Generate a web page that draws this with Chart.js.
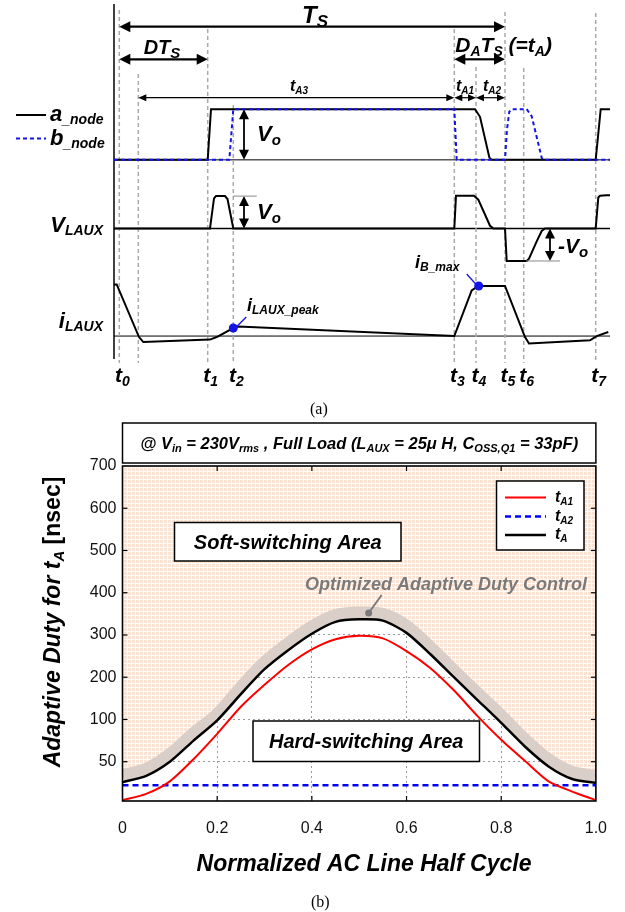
<!DOCTYPE html>
<html>
<head>
<meta charset="utf-8">
<script src="https://cdn.jsdelivr.net/npm/chart.js@4.4.0/dist/chart.umd.min.js"></script>
<style>
  body { margin: 0; background: #fff; width: 625px; height: 912px; position: relative; overflow: hidden; }
  canvas { position: absolute; left: 0; }
  #diagram { top: 0; }
  #duty { top: 400px; }
  .cap { position: absolute; font-family: "Liberation Serif", "Times New Roman", serif; font-size: 16px; color: #000; }
</style>
</head>
<body>
<canvas id="diagram" width="625" height="400"></canvas>
<canvas id="duty" width="625" height="512"></canvas>
<div class="cap" style="left:310px;top:400px">(a)</div>
<div class="cap" style="left:311px;top:893px">(b)</div>
<script>
// ---- (a) switching waveforms, time in diagram units ----
const eventNames = ['0', '1', '2', '3', '4', '5', '6', '7'];
const eventTimes = [5.3, 93.7, 119.3, 340.3, 362, 391, 409.7, 481.7];
const tA3Start = 24.3;

const aNodeT = [0, 93.7, 97, 361, 366, 375.3, 377.7, 481.7, 486.7, 496];
const aNodeV = [0, 0, 1, 1, 0.85, 0.05, 0, 0, 1, 1];
const bNodeT = [0, 115.3, 119.3, 340.3, 342.7, 391, 393, 395.3, 397.7, 412.7, 417.7, 427.7, 429.3, 496];
const bNodeV = [0, 0, 1, 1, 0, 0, 0.6, 0.95, 1, 1, 0.86, 0.04, 0, 0];
const vLauxT = [0, 96, 100, 102, 111, 113.5, 119.3, 340.3, 342, 360, 364.3, 376, 379.3, 391, 392.7, 412.7, 415, 422.7, 427.7, 431, 481.7, 484.3, 486, 492.7, 496];
const vLauxV = [0, 0, 0.92, 0.99, 0.99, 0.9, 0, 0, 1, 1, 0.88, 0.08, 0, 0, -1, -1, -0.93, -0.4, -0.08, 0, 0, 0.95, 1, 1.02, 1.02];
const iLauxT = [0, 2.7, 25, 29.3, 96, 102.7, 119.3, 124.3, 340.3, 357.7, 364.3, 391, 411, 415, 476, 482.7, 494.3];
const iLauxV = [1.03, 1.03, -0.02, -0.12, -0.07, -0.02, 0.16, 0.19, 0, 0.91, 1, 1, -0.02, -0.15, -0.085, 0, 0.08];
const markerT = [119.3, 364.7];
const markerI = [0.16, 1];

// ---- (b) adaptive duty vs normalized line cycle ----
const cycle = [0, 0.05, 0.1, 0.15, 0.2, 0.25, 0.3, 0.35, 0.4, 0.45, 0.5, 0.55, 0.6, 0.65, 0.7, 0.75, 0.8, 0.85, 0.9, 0.95, 1.0];
const tA1 = [1, 9, 25, 53, 83, 130, 182, 229, 266, 290, 298, 292, 262, 222, 169, 108, 76, 51, 25, 12, 1];
const tA2 = [20, 20, 20, 20, 20, 20, 20, 20, 20, 20, 20, 20, 20, 20, 20, 20, 20, 20, 20, 20, 20];
const tA = [24, 32, 50, 75, 99, 160, 219, 264, 303, 331, 337, 334, 305, 255, 200, 146, 96, 68, 44, 28, 23];
const optimized = [33, 41, 59, 84, 113, 177, 236, 281, 320, 347, 353, 350, 322, 272, 217, 163, 110, 77, 53, 37, 32];
const yTickVals = [50, 100, 200, 300, 400, 500, 600, 700];
const xTickVals = [0, 0.2, 0.4, 0.6, 0.8, 1.0];
const xTickLabels = ['0', '0.2', '0.4', '0.6', '0.8', '1.0'];
const markerCycle = 0.52;
const markerDuty = 352;

const FAMILY = '"Liberation Sans", Arial, sans-serif';

function line(ctx, x1, y1, x2, y2) {
  ctx.beginPath(); ctx.moveTo(x1, y1); ctx.lineTo(x2, y2); ctx.stroke();
}

// parts: [text, size, dy, style]
function rich(ctx, parts, x, y, align) {
  const f = p => `${p[3] || 'italic bold'} ${p[1]}px ${FAMILY}`;
  let w = 0;
  parts.forEach(p => { ctx.font = f(p); w += ctx.measureText(p[0]).width; });
  let cx = align === 'center' ? x - w / 2 : align === 'right' ? x - w : x;
  ctx.textAlign = 'left';
  ctx.textBaseline = 'alphabetic';
  parts.forEach(p => {
    ctx.font = f(p);
    ctx.fillText(p[0], cx, y + (p[2] || 0));
    cx += ctx.measureText(p[0]).width;
  });
}

function arrowHead(ctx, x, y, dx, dy, len, hw) {
  // tip at x,y pointing along (dx,dy)
  ctx.beginPath();
  ctx.moveTo(x, y);
  ctx.lineTo(x - dx * len - dy * hw, y - dy * len + dx * hw);
  ctx.lineTo(x - dx * len + dy * hw, y - dy * len - dx * hw);
  ctx.closePath();
  ctx.fill();
}

function hArrow(ctx, x1, x2, y, len, hw, lw, left, right) {
  ctx.lineWidth = lw;
  line(ctx, x1 + (left ? len - 1 : 0), y, x2 - (right ? len - 1 : 0), y);
  if (left) arrowHead(ctx, x1, y, -1, 0, len, hw);
  if (right) arrowHead(ctx, x2, y, 1, 0, len, hw);
}

function vArrow(ctx, x, y1, y2, len, hw, lw) {
  ctx.lineWidth = lw;
  line(ctx, x, y1 + len - 1, x, y2 - len + 1);
  arrowHead(ctx, x, y1, 0, -1, len, hw);
  arrowHead(ctx, x, y2, 0, 1, len, hw);
}

const pairs = (ts, vs) => ts.map((t, i) => ({ x: t, y: vs[i] }));

const diagramDecor = {
  id: 'diagramDecor',
  beforeDatasetsDraw(chart) {
    const { ctx, chartArea: area, scales: { x, yA, yV, yI } } = chart;
    ctx.save();
    ctx.strokeStyle = '#000';
    [[yA, 1], [yV, 1.5], [yI, 1]].forEach(([s, w]) => {
      const y = s.getPixelForValue(0);
      ctx.lineWidth = w;
      line(ctx, area.left, y, area.right, y);
    });
    // dashed time guides
    const tops = [10, 29, 105, 29, 67, 12, 68, 13];
    ctx.strokeStyle = '#a9a9a9';
    ctx.lineWidth = 1.5;
    ctx.setLineDash([4, 3]);
    eventTimes.forEach((t, i) => {
      const px = x.getPixelForValue(t);
      line(ctx, px, tops[i], px, area.bottom);
    });
    const pa = x.getPixelForValue(tA3Start);
    line(ctx, pa, 74, pa, area.bottom);
    ctx.setLineDash([]);
    // left axis
    ctx.strokeStyle = '#000';
    ctx.lineWidth = 1.5;
    line(ctx, area.left, 4, area.left, area.bottom - 4);
    ctx.restore();
  },
  afterDraw(chart) {
    const { ctx, scales: { x, yA, yV, yI } } = chart;
    const px = t => x.getPixelForValue(t);
    const [t0, t1, t2, t3, t4, t5] = eventTimes;
    ctx.save();
    ctx.fillStyle = '#000';
    ctx.strokeStyle = '#000';
    // period arrows
    hArrow(ctx, px(t0), px(t5), 26.7, 11, 5.5, 2.2, true, true);
    hArrow(ctx, px(t0), px(t1), 59.3, 11, 5.5, 2.2, true, true);
    hArrow(ctx, px(t3), px(t5), 59.3, 11, 5.5, 2.2, true, true);
    hArrow(ctx, px(tA3Start), px(t3), 97.7, 8, 3.5, 1.2, true, true);
    hArrow(ctx, px(t3), px(t4), 97.7, 8, 3.5, 1.2, true, true);
    hArrow(ctx, px(t4), px(t5), 97.7, 8, 3.5, 1.2, true, true);
    rich(ctx, [['T', 24], ['S', 17, 4]], px(201), 23, 'center');
    rich(ctx, [['DT', 20], ['S', 15, 4]], 162, 54, 'center');
    rich(ctx, [['D', 21], ['A', 14, 4], ['T', 21], ['S', 14, 4], [' (=t', 21], ['A', 14, 4], [')', 21]], px(t3) + 1, 52, 'left');
    rich(ctx, [['t', 16], ['A3', 10, 3]], 299, 91, 'center');
    rich(ctx, [['t', 16], ['A1', 10, 3]], 465, 91, 'center');
    rich(ctx, [['t', 16], ['A2', 10, 3]], 492, 91, 'center');

    // Vo arrows
    const vx = px(130);
    vArrow(ctx, vx, yA.getPixelForValue(1), yA.getPixelForValue(0), 10, 5, 1.8);
    rich(ctx, [['V', 22], ['o', 15, 4]], 257, 141, 'left');
    vArrow(ctx, vx, yV.getPixelForValue(0.99), yV.getPixelForValue(0), 10, 5, 1.8);
    rich(ctx, [['V', 22], ['o', 15, 4]], 257, 219, 'left');
    const nx = px(436);
    vArrow(ctx, nx, yV.getPixelForValue(0), yV.getPixelForValue(-1), 10, 5, 1.8);
    rich(ctx, [['-V', 21], ['o', 15, 4]], 558, 253, 'left');
    ctx.strokeStyle = '#888';
    ctx.lineWidth = 1;
    line(ctx, px(t2), yV.getPixelForValue(0.99), px(142.7), yV.getPixelForValue(0.99));
    line(ctx, px(412), yV.getPixelForValue(-1), px(446), yV.getPixelForValue(-1));

    // row labels
    ctx.strokeStyle = '#000';
    ctx.lineWidth = 2;
    line(ctx, 16, 115, 46, 115);
    ctx.strokeStyle = '#1414e6';
    ctx.setLineDash([4, 3]);
    line(ctx, 16, 138.5, 46, 138.5);
    ctx.setLineDash([]);
    rich(ctx, [['a', 22], ['_node', 14, 3]], 50, 121, 'left');
    rich(ctx, [['b', 22], ['_node', 14, 3]], 50, 145, 'left');
    rich(ctx, [['V', 22], ['LAUX', 14, 3]], 103, 232, 'right');
    rich(ctx, [['i', 22], ['LAUX', 14, 3]], 103, 328, 'right');

    // time labels
    eventTimes.forEach((t, i) => {
      rich(ctx, [['t', 21], [eventNames[i], 14, 4]], px(t) + 3, 382, 'center');
    });

    // marker callouts
    ctx.strokeStyle = '#1414e6';
    ctx.lineWidth = 1.3;
    const m0x = px(markerT[0]), m0y = yI.getPixelForValue(markerI[0]);
    line(ctx, m0x + 3, m0y - 1, m0x + 13, m0y - 11);
    const m1x = px(markerT[1]), m1y = yI.getPixelForValue(markerI[1]);
    line(ctx, m1x - 3, m1y - 2, m1x - 12, m1y - 12);
    rich(ctx, [['i', 18], ['LAUX_peak', 12, 3]], 247, 311, 'left');
    rich(ctx, [['i', 18], ['B_max', 12, 3]], 415, 268, 'left');
    ctx.restore();
  }
};

new Chart(document.getElementById('diagram'), {
  type: 'line',
  data: {
    datasets: [
      { data: pairs(markerT, markerI), yAxisID: 'yI', showLine: false, pointRadius: 4.5, pointBackgroundColor: '#1414e6', pointBorderWidth: 0, order: 0 },
      { data: pairs(aNodeT, aNodeV), yAxisID: 'yA', borderColor: '#000', borderWidth: 2, order: 2 },
      { data: pairs(bNodeT, bNodeV), yAxisID: 'yA', borderColor: '#1414e6', borderWidth: 2, borderDash: [4, 3], order: 1 },
      { data: pairs(vLauxT, vLauxV), yAxisID: 'yV', borderColor: '#000', borderWidth: 2, order: 2 },
      { data: pairs(iLauxT, iLauxV), yAxisID: 'yI', borderColor: '#000', borderWidth: 2, order: 2 }
    ]
  },
  options: {
    responsive: false,
    animation: false,
    layout: { padding: { left: 114, right: 15, top: 0, bottom: 37 } },
    elements: { point: { radius: 0 }, line: { tension: 0 } },
    plugins: { legend: { display: false }, tooltip: { enabled: false } },
    scales: {
      x: { type: 'linear', min: 0, max: 496, display: false },
      yA: { type: 'linear', position: 'left', stack: 'rows', stackWeight: 180, weight: 3, min: -0.4425, max: 3.066, display: false },
      yV: { type: 'linear', position: 'left', stack: 'rows', stackWeight: 100, weight: 2, min: -1.615, max: 1.415, display: false },
      yI: { type: 'linear', position: 'left', stack: 'rows', stackWeight: 83, weight: 1, min: -0.538, max: 1.099, display: false }
    }
  },
  plugins: [diagramDecor]
});

// ---- (b) ----
// axis is stretched below 100 nsec in the original figure
const tr = v => v >= 100 ? v + 100 : v >= 50 ? 2 * v : 7 + v * 93 / 50;
const curve = arr => cycle.map((c, i) => ({ x: c, y: tr(arr[i]) }));

function peachPattern() {
  const c = document.createElement('canvas');
  c.width = 4; c.height = 4;
  const g = c.getContext('2d');
  g.fillStyle = '#fce4d5';
  g.fillRect(0, 0, 4, 4);
  g.fillStyle = 'rgba(255,255,255,0.85)';
  g.fillRect(3, 0, 1, 4);
  g.fillRect(0, 3, 4, 1);
  return g.createPattern(c, 'repeat');
}

const dutyDecor = {
  id: 'dutyDecor',
  afterDraw(chart) {
    const { ctx, chartArea: a, scales: { x, y } } = chart;
    ctx.save();
    // frame and inner ticks
    ctx.strokeStyle = '#000';
    ctx.lineWidth = 1.6;
    ctx.strokeRect(a.left, a.top, a.right - a.left, a.bottom - a.top);
    ctx.lineWidth = 1.2;
    xTickVals.slice(1, -1).forEach(v => {
      const px = x.getPixelForValue(v);
      line(ctx, px, a.top, px, a.top + 5);
      line(ctx, px, a.bottom, px, a.bottom - 5);
    });
    yTickVals.slice(0, -1).forEach(v => {
      const py = y.getPixelForValue(tr(v));
      line(ctx, a.left, py, a.left + 5, py);
      line(ctx, a.right, py, a.right - 5, py);
    });

    // condition header
    ctx.lineWidth = 1.5;
    ctx.fillStyle = '#fff';
    ctx.fillRect(a.left, 23, a.right - a.left, 40);
    ctx.strokeRect(a.left, 23, a.right - a.left, 40);
    ctx.fillStyle = '#000';
    rich(ctx, [['@ V', 16.5], ['in', 11, 3], [' = 230V', 16.5], ['rms', 11, 3], [' , Full Load (L', 16.5], ['AUX', 11, 3],
      [' = 25\u03bc H, C', 16.5], ['OSS,Q1', 11, 3], [' = 33pF)', 16.5]], (a.left + a.right) / 2, 49, 'center');

    // area boxes
    const box = (x1, y1, x2, y2, text) => {
      ctx.fillStyle = '#fff';
      ctx.fillRect(x1, y1, x2 - x1, y2 - y1);
      ctx.strokeStyle = '#000';
      ctx.lineWidth = 1.5;
      ctx.strokeRect(x1, y1, x2 - x1, y2 - y1);
      ctx.fillStyle = '#000';
      rich(ctx, [[text, 20]], (x1 + x2) / 2, (y1 + y2) / 2 + 7, 'center');
    };
    box(174.5, 122.5, 401, 161, 'Soft-switching Area');
    box(253, 321, 479.5, 361.5, 'Hard-switching Area');

    // optimized control callout
    const mx = x.getPixelForValue(markerCycle), my = y.getPixelForValue(tr(markerDuty));
    ctx.strokeStyle = '#7a7a7a';
    ctx.fillStyle = '#7a7a7a';
    ctx.lineWidth = 2;
    line(ctx, mx, my, mx + 13, my - 18);
    ctx.beginPath(); ctx.arc(mx, my, 3.5, 0, Math.PI * 2); ctx.fill();
    rich(ctx, [['Optimized Adaptive Duty Control', 18]], 446, 190, 'center');

    // legend
    ctx.fillStyle = '#fff';
    ctx.fillRect(496.5, 81, 87.5, 69);
    ctx.strokeStyle = '#000';
    ctx.lineWidth = 1.5;
    ctx.strokeRect(496.5, 81, 87.5, 69);
    const legend = [[2, 'A1', 97.5], [1, 'A2', 116.5], [3, 'A', 135]];
    legend.forEach(([di, sub, ly]) => {
      const ds = chart.data.datasets[di];
      ctx.strokeStyle = ds.borderColor;
      ctx.lineWidth = ds.borderWidth;
      ctx.setLineDash(ds.borderDash || []);
      line(ctx, 505, ly, 546, ly);
      ctx.setLineDash([]);
      ctx.fillStyle = '#000';
      rich(ctx, [['t', 16], [sub, 10, 3]], 555, ly + 4, 'left');
    });

    // axis titles
    ctx.fillStyle = '#000';
    rich(ctx, [['Normalized AC Line Half Cycle', 23]], 364, 471, 'center');
    ctx.translate(60, 222);
    ctx.rotate(-Math.PI / 2);
    rich(ctx, [['Adaptive Duty for t', 23], ['A', 15, 4], [' [nsec]', 23, 0, 'bold']], 0, 0, 'center');
    ctx.restore();
  }
};

new Chart(document.getElementById('duty'), {
  type: 'line',
  data: {
    datasets: [
      { label: 'optimized', data: curve(optimized), borderColor: '#dacfc8', borderWidth: 12, fill: 'end',
        backgroundColor: peachPattern(), tension: 0.3, clip: 0, order: 3 },
      { label: 'tA2', data: curve(tA2), borderColor: '#0000ff', borderWidth: 2.5, borderDash: [6, 4], order: 2 },
      { label: 'tA1', data: curve(tA1), borderColor: '#ff0000', borderWidth: 2, tension: 0.25, order: 1 },
      { label: 'tA', data: curve(tA), borderColor: '#000', borderWidth: 2.5, tension: 0.25, order: 0 }
    ]
  },
  options: {
    responsive: false,
    animation: false,
    layout: { padding: { left: 0, right: 29, top: 66, bottom: 0 } },
    elements: { point: { radius: 0 } },
    plugins: { legend: { display: false }, tooltip: { enabled: false } },
    scales: {
      x: {
        type: 'linear', min: 0, max: 1, z: 1,
        afterBuildTicks: s => { s.ticks = xTickVals.map(v => ({ value: v })); },
        afterFit: s => { s.height = 111; },
        grid: { color: '#9a9a9a', lineWidth: 1, drawTicks: false },
        border: { display: false, dash: [2, 3] },
        ticks: { padding: 18, color: '#111', font: { family: FAMILY, size: 16 }, maxRotation: 0, callback: (v, i) => xTickLabels[i] }
      },
      y: {
        type: 'linear', min: 7, max: 800, z: 1,
        afterBuildTicks: s => { s.ticks = yTickVals.map(v => ({ value: tr(v) })); },
        afterFit: s => { s.width = 122.5; },
        grid: { color: '#9a9a9a', lineWidth: 1, drawTicks: false },
        border: { display: false, dash: [2, 3] },
        ticks: { padding: 6, color: '#111', font: { family: FAMILY, size: 16 }, callback: (v, i) => String(yTickVals[i]) }
      }
    }
  },
  plugins: [dutyDecor]
});
</script>
</body>
</html>
